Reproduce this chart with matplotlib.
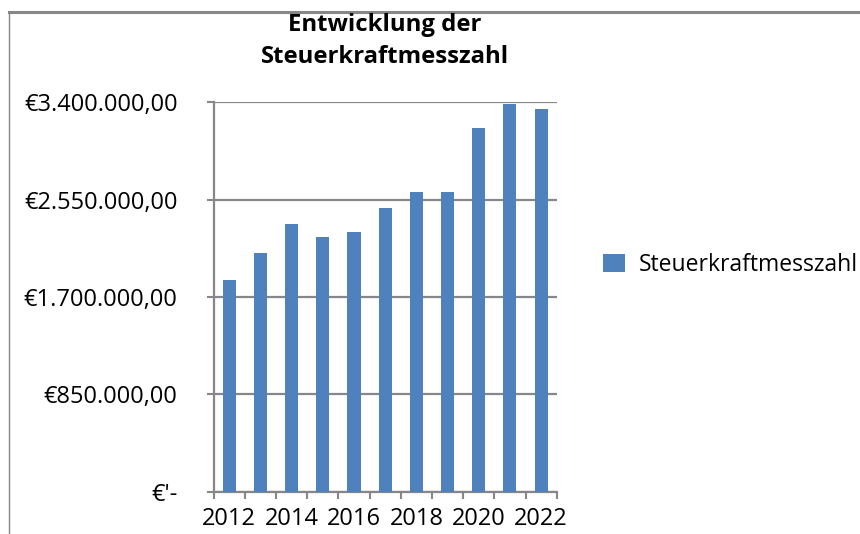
import matplotlib.pyplot as plt
from matplotlib.lines import Line2D
from matplotlib.ticker import FixedLocator

plt.rcParams['font.family'] = ['Open Sans', 'DejaVu Sans']

jahre = [2012, 2013, 2014, 2015, 2016, 2017, 2018, 2019, 2020, 2021, 2022]
werte = [1848000, 2084000, 2337000, 2224000, 2267000, 2477000,
         2617000, 2617000, 3176000, 3388000, 3341000]
y_ticks = [0, 850000, 1700000, 2550000, 3400000]
y_labels = ["€'-", '€850.000,00', '€1.700.000,00', '€2.550.000,00', '€3.400.000,00']
serie = 'Steuerkraftmesszahl'

blau = '#4F81BD'
grau = '#878787'
fs = 17

fig = plt.figure(figsize=(8.6, 5.34), dpi=100)
ax = fig.add_axes([213.7/860, 42.3/534, 343/860, 389.4/534])

x = list(range(len(jahre)))
ax.bar(x, werte, width=0.42, color=blau, label=serie, zorder=3)

ax.set_xlim(-0.5, len(jahre) - 0.5)
ax.set_ylim(0, 3400000)
ax.set_yticks(y_ticks)
ax.set_yticklabels(y_labels, fontsize=fs)
ax.set_xticks(x[::2])
ax.set_xticklabels([str(j) for j in jahre[::2]], fontsize=fs)
ax.xaxis.set_minor_locator(FixedLocator([i - 0.5 for i in range(len(jahre) + 1)]))
ax.tick_params(axis='x', which='major', length=0, pad=11)
ax.tick_params(axis='x', which='minor', direction='out', length=5, width=1.5, color=grau)
ax.tick_params(axis='y', direction='out', length=5, width=1.5, color=grau, pad=21)

ax.grid(axis='y', color=grau, linewidth=1.6, zorder=0)
for s in ['top', 'right']:
    ax.spines[s].set_visible(False)
for s in ['left', 'bottom']:
    ax.spines[s].set_color(grau)
    ax.spines[s].set_linewidth(1.6)

fig.text(385/860, 1 - 41/534, 'Entwicklung der\nSteuerkraftmesszahl',
         ha='center', va='center', fontsize=17.2, fontweight='bold', linespacing=1.42)

fig.legend(loc='center left', bbox_to_anchor=(603/860, 1 - 265/534), frameon=False,
           fontsize=16.5, handlelength=0.95, handleheight=0.85, handletextpad=0.6,
           borderpad=0, borderaxespad=0)

# Rahmen (oben und links sichtbar)
fig.add_artist(Line2D([9/860, 1], [1 - 12/534, 1 - 12/534], color=grau, linewidth=2.2,
                      transform=fig.transFigure))
fig.add_artist(Line2D([9/860, 9/860], [0, 1 - 12/534], color=grau, linewidth=1.0,
                      transform=fig.transFigure))

fig.savefig('out.png', dpi=100)
